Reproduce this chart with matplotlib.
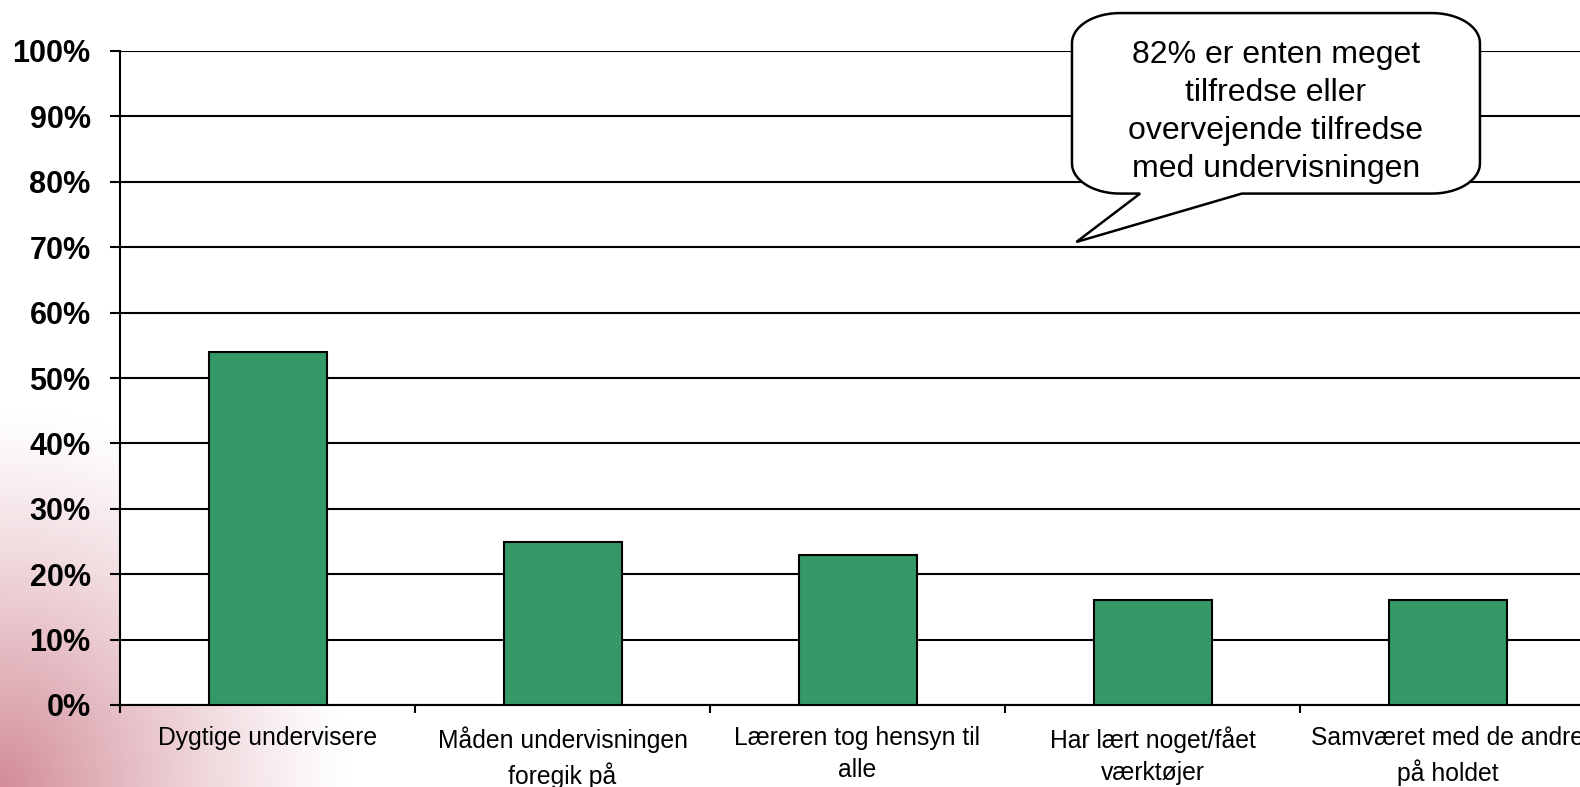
import numpy as np
import matplotlib.pyplot as plt
from matplotlib.path import Path
from matplotlib.patches import PathPatch
from matplotlib.transforms import IdentityTransform

plt.rcParams['font.family'] = ['Liberation Sans', 'DejaVu Sans']

# ==========================================================
# Data
# ==========================================================
categories = [
    "Dygtige undervisere",
    "Måden undervisningen\nforegik på",
    "Læreren tog hensyn til\nalle",
    "Har lært noget/fået\nværktøjer",
    "Samværet med de andre\npå holdet",
]
values = [54, 25, 23, 16, 16]
y_ticks = list(range(0, 101, 10))
callout_text = "82% er enten meget\ntilfredse eller\novervejende tilfredse\nmed undervisningen"

bar_color = "#349966"

fig = plt.figure(figsize=(15.8, 7.87), dpi=100)

# --- background gradient (bottom-left corner) ---
bg = fig.add_axes([0, 0, 1, 1], zorder=-2)
H, W = 787, 1580
yy, xx = np.mgrid[0:H, 0:W]
d = np.sqrt((xx / 350.0) ** 2 + ((H - 1 - yy) / 380.0) ** 2)
t = np.clip(1 - d, 0, 1) ** 1.2
corner = np.array([210, 140, 152]) / 255.0
img = np.ones((H, W, 3)) * (1 - t[..., None]) + corner * t[..., None]
bg.imshow(img, aspect="auto", extent=[0, 1, 0, 1], origin="upper")
bg.axis("off")

# --- main axes (right edge extends past the figure, as in original) ---
ax = fig.add_axes([120 / 1580, 82 / 787, 1475 / 1580, 654 / 787])
ax.set_facecolor("white")

x = np.arange(len(categories))
ax.bar(x, values, width=0.4, color=bar_color, edgecolor="black", linewidth=1.5, zorder=3)

ax.set_xlim(-0.5, len(categories) - 0.5)
ax.set_ylim(0, 100)
ax.set_yticks(y_ticks)
ax.set_yticklabels([f"{v}%" for v in y_ticks], fontsize=22, fontweight="bold")
ax.yaxis.grid(True, color="black", linewidth=1.5, zorder=0)
ax.set_axisbelow(True)

ax.set_xticks(x)
ax.set_xticklabels(categories, fontsize=17.8, linespacing=1.45)
ax.tick_params(axis="x", length=0, pad=15)
ax.set_xticks(np.arange(-0.5, len(categories), 1.0), minor=True)
ax.tick_params(axis="x", which="minor", length=6, width=1.5, direction="out")
ax.tick_params(axis="y", length=7.2, width=1.5, pad=14)

for s in ["top", "right"]:
    ax.spines[s].set_visible(False)
ax.spines["left"].set_linewidth(1.5)
ax.spines["bottom"].set_linewidth(1.5)

# ==========================================================
# Callout bubble
# ==========================================================
fig.canvas.draw()
tr = ax.transData
(bx0, by0) = tr.transform((2.727, 78.2))
(bx1, by1) = tr.transform((4.110, 105.8))
(px0, _) = tr.transform((2.958, 78.2))
(px1, _) = tr.transform((3.303, 78.2))
(tx, ty) = tr.transform((2.742, 70.8))

rx, ry = 48, 30

def arc(cx, cy, a0, a1, n=16):
    ang = np.linspace(np.radians(a0), np.radians(a1), n)
    return [(cx + rx * np.cos(a), cy + ry * np.sin(a)) for a in ang]

pts = []
pts += arc(bx0 + rx, by1 - ry, 90, 180)          # top-left
pts += arc(bx0 + rx, by0 + ry, 180, 270)         # bottom-left
pts += [(px0, by0), (tx, ty), (px1, by0)]        # pointer
pts += arc(bx1 - rx, by0 + ry, 270, 360)         # bottom-right
pts += arc(bx1 - rx, by1 - ry, 0, 90)            # top-right
pts.append(pts[0])
codes = [Path.MOVETO] + [Path.LINETO] * (len(pts) - 2) + [Path.CLOSEPOLY]
bubble = PathPatch(Path(pts, codes), facecolor="white", edgecolor="black",
                   linewidth=1.8, transform=IdentityTransform(), zorder=10)
fig.patches.append(bubble)

fig.text((bx0 + bx1) / 2 / 1580, (787 - 112) / 787, callout_text,
         ha="center", va="center", fontsize=23, linespacing=1.34, zorder=11)

fig.savefig("out.png", dpi=100)
